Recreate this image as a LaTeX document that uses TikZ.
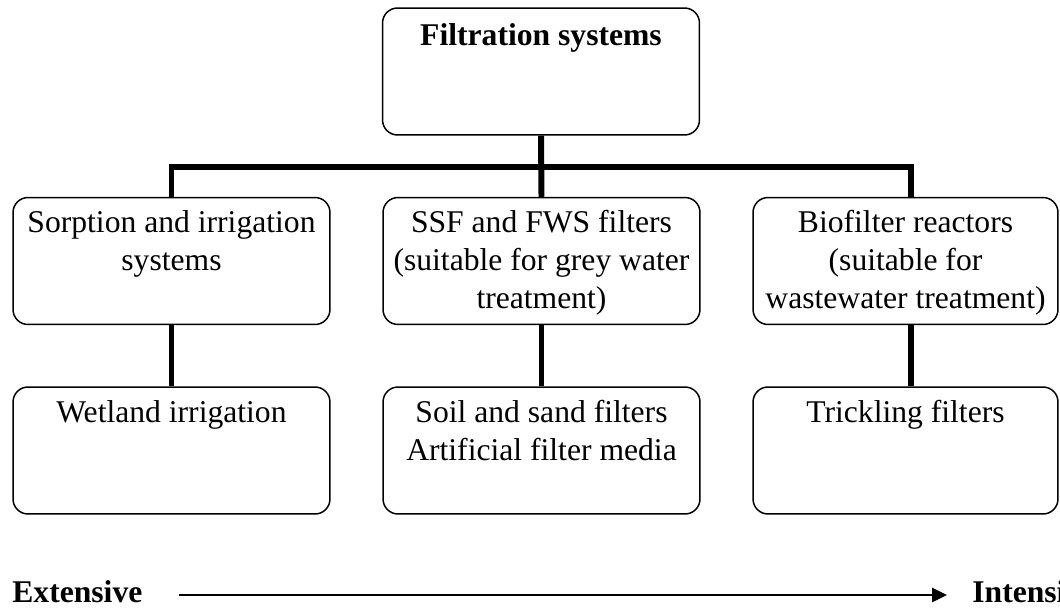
\documentclass[tikz,border=0pt]{standalone}
\usepackage{fontspec}
\setmainfont{Liberation Serif}
\usetikzlibrary{arrows.meta}
\newcommand{\boxtext}[2]{\parbox[c][#1][t]{6.1cm}{\centering\vspace{7.5pt}#2}}

\begin{document}
\begin{tikzpicture}[x=0.02cm, y=-0.02cm, line join=miter,
        every node/.append style={font=\fontsize{18}{21.6}\selectfont},
        link/.style={line width=3.4pt}]
      \tikzstyle{sysbox} = [draw, line width=0.85pt, rounded corners=0.3cm, inner sep=0pt,
        minimum width=6.34cm, minimum height=2.54cm]
      \tikzstyle{endword} = [anchor=base west, inner sep=0pt]
      \useasboundingbox (0,0) rectangle (1060,608);
      \node (filt) [sysbox] at (541,71.5) {\boxtext{2.54cm}{\vspace{1.5pt}\textbf{Filtration systems}}};
      \node (sorp) [sysbox] at (171.5,261) {\boxtext{2.54cm}{Sorption and irrigation\\ systems}};
      \node (ssf) [sysbox] at (541.5,261) {\boxtext{2.54cm}{SSF and FWS filters\\ (suitable for grey water\\ treatment)}};
      \node (biof) [sysbox, minimum width=6.1cm] at (905.5,261) {\boxtext{2.54cm}{Biofilter reactors\\ (suitable for\\ wastewater treatment)}};
      \node (wet) [sysbox] at (171.5,450.5) {\boxtext{2.54cm}{Wetland irrigation}};
      \node (soil) [sysbox] at (541.5,450.5) {\boxtext{2.54cm}{Soil and sand filters\\ Artificial filter media}};
      \node (trick) [sysbox, minimum width=6.1cm] at (905.5,450.5) {\boxtext{2.54cm}{Trickling filters}};
      \coordinate (bar) at (541,167);
      \draw[link] (filt.south) -- (ssf.north);
      \draw[link] (sorp.north) |- (bar) -| ([xshift=0.11cm]biof.north);
      \draw[link] (sorp.south) -- (wet.north);
      \draw[link] (ssf.south) -- (soil.north);
      \draw[link] ([xshift=0.11cm]biof.south) -- ([xshift=0.11cm]trick.north);
      \node (ext) [endword] at (12,602) {\textbf{Extensive}};
      \node (int) [endword] at (972,602) {\textbf{Intensive}};
      \coordinate (arrS) at (179,595);
      \coordinate (arrE) at (947,595);
      \draw[line width=1.4pt, -{Triangle[length=8.5pt, width=8pt]}] (arrS) -- (arrE);
    \end{tikzpicture}
\end{document}
